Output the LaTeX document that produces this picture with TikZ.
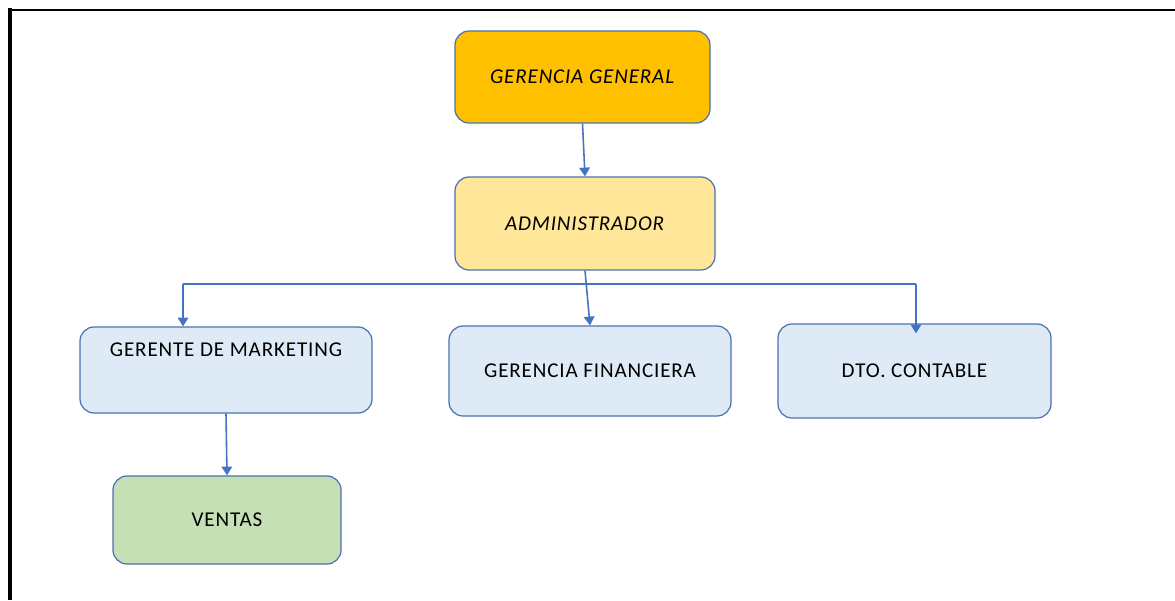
\documentclass[tikz,border=0pt]{standalone}
\usepackage{fontspec}
\setmainfont{Carlito}[LetterSpace=4]
\usepackage{tikz}
\usetikzlibrary{arrows.meta}

\definecolor{boxline}{HTML}{4A72B0}
\definecolor{arrowblue}{HTML}{4472C4}
\definecolor{gold}{HTML}{FFC000}
\definecolor{paleyellow}{HTML}{FFE699}
\definecolor{paleblue}{HTML}{DEEBF7}
\definecolor{palegreen}{HTML}{C5E0B4}

\tikzset{
  unit/.style={draw=boxline, line width=0.7pt, rounded corners=8pt,
    inner sep=0pt, font=\fontsize{12}{14}\selectfont},
  link/.style={draw=arrowblue, line width=0.9pt,
    -{Triangle[length=5pt,width=6pt]}}
}

\begin{document}
\begin{tikzpicture}
  \useasboundingbox (0,0) rectangle (23.5,12);

  \node (gg)  at (11.65,10.46) [unit, fill=gold, minimum width=5.1cm, minimum height=1.84cm]
    {\textit{GERENCIA GENERAL}};
  \node (adm) at (11.70,7.53)  [unit, fill=paleyellow, minimum width=5.2cm, minimum height=1.86cm]
    {\textit{ADMINISTRADOR}};
  \node (mkt) at (4.52,4.60)   [unit, fill=paleblue, minimum width=5.84cm,
    text height=0.58cm, text depth=1.14cm] {GERENTE DE MARKETING};
  \node (fin) at (11.80,4.58)  [unit, fill=paleblue, minimum width=5.64cm, minimum height=1.80cm]
    {GERENCIA FINANCIERA};
  \node (ctb) at (18.29,4.58)  [unit, fill=paleblue, minimum width=5.46cm, minimum height=1.88cm]
    {DTO. CONTABLE};
  \node (ven) at (4.54,1.60)   [unit, fill=palegreen, minimum width=4.56cm, minimum height=1.76cm]
    {VENTAS};

  % frame
  \draw[line width=1.1pt] (0.18,11.8) -- (23.5,11.8);
  \draw[line width=2.2pt] (0.2,11.84) -- (0.2,0);

  \coordinate (busl) at (3.66,6.32);
  \coordinate (busr) at (18.32,6.32);

  \draw[link] (gg.south) -- (adm.north);
  \draw[link] (adm.south) -- (fin.north);
  \draw[draw=arrowblue, line width=0.9pt] (busl) -- (busr);
  \draw[link] (busl) -- (busl |- mkt.north);
  \draw[link] (busr) -- ([yshift=-0.2cm]busr |- ctb.north);
  \draw[link] (mkt.south) -- (ven.north);
\end{tikzpicture}
\end{document}
